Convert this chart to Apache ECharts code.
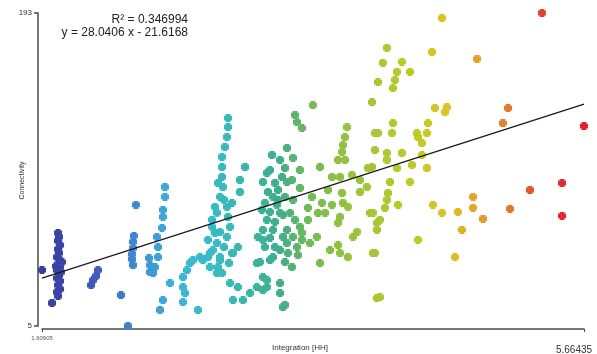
<!DOCTYPE html>
<html>
<head>
<meta charset="utf-8">
<script src="https://cdn.jsdelivr.net/npm/echarts@6/dist/echarts.min.js"></script>
<style>
  html, body { margin: 0; padding: 0; background: #fff; }
  #chart { width: 597px; height: 354px; }
</style>
</head>
<body>
<div id="chart"></div>
<script>
// Integration [HH] (x) and Connectivity (y), left to right
const integration = [
  1.609, 1.684, 1.729, 1.736, 1.729, 1.744, 1.729, 1.736, 1.721, 1.744, 1.729, 1.744, 1.721, 1.751, 1.736, 1.721, 1.744, 1.729, 1.744, 1.721, 1.729, 1.759, 1.714,
  2.028, 2.013, 1.991, 1.976, 2.200, 2.252, 2.312, 2.297, 2.290, 2.290, 2.282, 2.282, 2.290, 2.410, 2.417, 2.417,
  2.529, 2.529, 2.514, 2.514, 2.507, 2.469, 2.477, 2.477, 2.454, 2.440, 2.567, 2.514, 2.492, 2.664, 2.694, 2.716, 2.739, 2.791, 2.664, 2.679, 2.664, 2.776,
  3.001, 3.001, 2.993, 2.978, 2.956, 2.956, 2.956, 2.963, 2.941, 2.903, 2.918, 2.993, 3.031, 2.881, 2.881, 2.903, 2.851, 2.918, 2.888, 2.941, 2.851, 2.926, 2.956, 2.941, 3.016, 3.001, 2.971, 2.926,
  3.128, 3.090, 3.090, 3.075, 3.031, 2.866, 2.941, 2.813, 2.918, 3.038, 3.225, 3.262, 2.993, 2.971, 2.866, 3.008,
  3.016, 3.075, 3.038, 3.113, 3.165, 3.217, 3.262, 3.292, 3.217, 3.390, 3.390, 3.427, 3.262,
  3.636, 3.502, 3.517, 3.554, 3.442, 3.330, 3.390, 3.487, 3.427, 3.539, 3.315, 3.405, 3.262, 3.352, 3.442, 3.539, 3.375, 3.337, 3.277, 3.427,
  3.367, 3.315, 3.390, 3.465, 3.599, 3.292, 3.352, 3.502, 3.262, 3.337, 3.442, 3.539, 3.599, 3.315, 3.412, 3.487, 3.554, 3.277, 3.352, 3.442,
  3.517, 3.337, 3.449, 3.524, 3.614, 3.479, 3.240, 3.292, 3.412, 3.375, 3.412, 3.300, 3.487, 3.390, 3.315, 3.427, 3.255, 3.479, 3.554, 3.292,
  3.891, 3.876, 3.861, 3.854, 3.824, 3.876, 4.078, 4.100, 4.100, 3.689, 3.779, 3.839, 3.928, 3.988, 4.048, 4.040, 3.988, 3.749, 3.854, 3.629,
  3.704, 3.779, 3.861, 3.898, 3.674, 3.727, 4.063, 3.839, 3.824, 4.115, 3.966, 3.936, 3.666, 4.115, 3.764, 3.824, 3.839, 3.898, 3.689, 4.085, 4.115,
  4.602, 4.527, 4.864, 4.190, 4.160, 4.302, 4.265, 4.362, 4.250, 4.235, 4.123, 4.549, 4.639, 4.624, 4.235, 4.123, 4.228, 4.414, 4.497, 4.489,
  4.452, 4.422, 4.190, 4.302, 4.190, 4.452, 4.377, 4.265, 4.489, 4.078, 4.213, 4.362, 4.198, 4.190, 4.273, 4.175, 4.085, 4.138, 4.422, 4.100,
  4.534, 4.602, 4.721, 4.751, 4.699, 4.834, 4.834, 4.138,
  5.096, 5.058, 5.664, 5.350, 5.260, 5.500, 5.500, 5.111, 4.909
];
const connectivity = [
  38.6, 18.8, 60.9, 58.5, 56.1, 53.6, 51.2, 48.8, 46.4, 44.6, 42.2, 40.4, 38.6, 37.4, 35.6, 33.8, 32.0, 29.6, 27.2, 25.4, 23.0, 43.4, 41.0,
  38.6, 35.0, 32.6, 29.6, 23.6, 5.0, 77.7, 59.1, 55.5, 51.8, 48.2, 45.2, 41.6, 45.8, 41.6, 37.4,
  88.5, 82.5, 74.7, 70.5, 63.9, 58.5, 52.4, 46.4, 40.4, 36.8, 30.8, 20.6, 14.6, 34.4, 38.6, 42.8, 44.6, 46.4, 28.4, 24.8, 19.4, 14.6,
  129.9, 124.5, 118.5, 112.5, 106.5, 100.5, 94.5, 88.5, 82.5, 76.5, 73.0, 76.5, 78.9, 68.7, 64.5, 60.9, 56.7, 54.8, 50.6, 46.4, 46.4, 40.4, 36.8, 61.5, 64.5, 70.5, 80.7, 90.9,
  100.5, 92.7, 85.5, 52.4, 48.8, 48.8, 44.6, 44.6, 36.8, 48.8, 58.5, 56.7, 58.5, 52.4, 40.4, 42.8,
  30.8, 28.4, 20.6, 20.6, 24.8, 28.4, 34.4, 28.4, 42.8, 30.8, 24.8, 17.6, 26.6,
  137.7, 131.7, 127.5, 123.9, 111.9, 107.7, 104.7, 105.9, 99.9, 98.7, 98.7, 94.5, 91.5, 90.9, 91.5, 87.9, 86.7, 82.5, 78.9, 82.5,
  77.7, 73.5, 72.9, 72.9, 75.9, 68.7, 67.5, 68.7, 62.7, 62.7, 62.7, 64.5, 68.7, 57.9, 58.5, 58.5, 60.9, 52.4, 52.4, 54.8,
  52.4, 46.4, 48.8, 47.6, 54.8, 40.4, 43.4, 32.6, 16.4, 80.7, 71.7, 85.5, 80.7, 50.6, 44.6, 43.4, 74.7, 92.7, 56.7, 96.9,
  124.5, 118.5, 113.7, 109.5, 104.7, 104.7, 139.5, 120.9, 110.7, 100.5, 94.5, 94.5, 95.7, 92.7, 99.9, 88.5, 85.5, 86.7, 84.9, 82.5,
  78.9, 77.7, 78.9, 76.5, 72.9, 72.9, 72.9, 70.5, 66.9, 66.9, 61.5, 58.5, 58.5, 62.7, 50.6, 53.6, 48.8, 46.4, 42.8, 48.8, 21.8,
  190.0, 169.6, 165.4, 172.0, 163.0, 163.6, 157.6, 157.6, 152.7, 147.9, 151.5, 135.9, 136.5, 133.5, 126.9, 120.9, 120.9, 120.9, 126.9, 120.9,
  114.9, 118.5, 108.9, 108.9, 104.7, 107.7, 101.7, 99.9, 99.9, 100.5, 91.5, 91.5, 84.9, 80.7, 77.7, 75.9, 72.9, 68.7, 56.7, 48.8,
  77.7, 72.9, 73.5, 62.7, 46.4, 82.5, 75.9, 22.4,
  135.9, 126.9, 125.1, 193.0, 86.7, 90.9, 71.1, 75.3, 69.3
];

// axis end labels and the trend line as drawn
const xTicks = [1.60905, 5.66435];
const xTickLabels = ['1.60905', '5.66435'];
const yTicks = [5, 193];
const fitX = [1.60905, 5.66435];
const fitY = [33.8, 138.3];
const fitText = ['R\u00b2 = 0.346994', 'y = 28.0406 x - 21.6168'];

const points = integration.map((x, i) => [x, connectivity[i]]);

const chart = echarts.init(document.getElementById('chart'));

const axisGrey = '#4a4a4a';

const option = {
  animation: false,
  backgroundColor: '#fff',
  textStyle: { fontFamily: 'Liberation Sans, Arial, sans-serif' },
  grid: { left: 42, right: 13, top: 13, bottom: 28, outerBoundsMode: 'none', containLabel: false },
  xAxis: {
    type: 'value',
    min: xTicks[0],
    max: xTicks[1],
    offset: 3,
    name: 'Integration [HH]',
    nameLocation: 'middle',
    nameGap: 15,
    nameMoveOverlap: false,
    nameTextStyle: { fontSize: 8, color: '#333', padding: [0, 26, 0, 0] },
    splitLine: { show: false },
    axisLine: { show: true, lineStyle: { color: axisGrey, width: 1.5 } },
    axisTick: { show: true, length: 3, customValues: xTicks, lineStyle: { color: axisGrey } },
    axisLabel: {
      customValues: xTicks,
      margin: 6,
      formatter: v => (Math.abs(v - xTicks[0]) < 1e-6 ? '{s|' + xTickLabels[0] + '}' : '{b|' + xTickLabels[1] + '}'),
      rich: {
        s: { fontSize: 6, color: '#555' },
        b: { fontSize: 10, color: '#333', padding: [10, 20, 0, 0] }
      }
    }
  },
  yAxis: {
    type: 'value',
    min: yTicks[0],
    max: yTicks[1],
    offset: 4,
    name: 'Connectivity',
    nameLocation: 'middle',
    nameGap: 12,
    nameRotate: 90,
    nameMoveOverlap: false,
    nameTextStyle: { fontSize: 7, color: '#333', padding: [0, 22, 0, 0] },
    splitLine: { show: false },
    axisLine: { show: true, lineStyle: { color: axisGrey, width: 1.5 } },
    axisTick: { show: true, length: 4, customValues: yTicks, lineStyle: { color: axisGrey, width: 1.5 } },
    axisLabel: { customValues: yTicks, margin: 6, fontSize: 8, color: '#333' }
  },
  visualMap: {
    show: false,
    type: 'continuous',
    dimension: 0,
    seriesIndex: 0,
    min: xTicks[0],
    max: xTicks[1],
    inRange: {
      color: ['#3a3d9c', '#3b4bae', '#3e6bc6', '#3f92d6', '#3cb4d8', '#36bcc6', '#38b6ac',
              '#3fae8a', '#76bb50', '#96c23e', '#a9c832', '#bfca26', '#dcc422', '#e49a30',
              '#e2702e', '#e03232', '#e0202a']
    }
  },
  graphic: [
    {
      type: 'text', right: 597 - 188, top: 14,
      style: { text: fitText[0], fontSize: 12, fill: '#222', fontFamily: 'Liberation Sans, Arial', textAlign: 'right' }
    },
    {
      type: 'text', right: 597 - 188, top: 27,
      style: { text: fitText[1], fontSize: 12, fill: '#222', fontFamily: 'Liberation Sans, Arial', textAlign: 'right' }
    }
  ],
  series: [
    {
      type: 'scatter',
      data: points,
      symbol: 'path://M2,0H8V2H10V8H8V10H2V8H0V2H2Z',
      symbolSize: 8,
      clip: false,
      itemStyle: { opacity: 1 }
    },
    {
      type: 'line',
      data: fitX.map((x, i) => [x, fitY[i]]),
      showSymbol: false,
      symbol: 'none',
      lineStyle: { color: '#1a1a1a', width: 1.3 },
      z: 3
    }
  ]
};

chart.setOption(option);
</script>
</body>
</html>
